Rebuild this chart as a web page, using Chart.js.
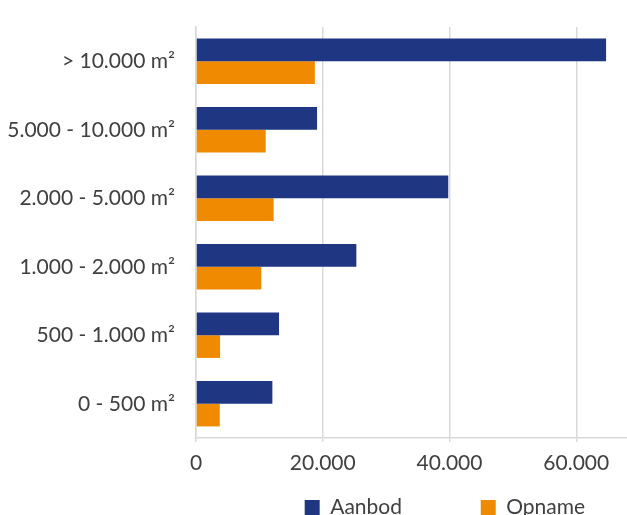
<!DOCTYPE html>
<html>
<head>
<meta charset="utf-8">
<script src="https://cdn.jsdelivr.net/npm/chart.js@4.4.1/dist/chart.umd.min.js"></script>
<style>
  html, body { margin: 0; padding: 0; overflow: hidden; background: #ffffff; }
  #wrap { width: 627px; height: 515px; overflow: hidden; position: relative; }
  #box { width: 627px; height: 528px; position: absolute; left: 0; top: 0; }
</style>
</head>
<body>
<div id="wrap"><div id="box"><canvas id="c"></canvas></div></div>
<script>
const categories = ["> 10.000 m²", "5.000 - 10.000 m²", "2.000 - 5.000 m²", "1.000 - 2.000 m²", "500 - 1.000 m²", "0 - 500 m²"];
const seriesNames = ["Aanbod", "Opname"];
const aanbod = [64700, 19100, 39800, 25300, 13100, 12050];
const opname = [18750, 11000, 12250, 10300, 3800, 3750];
const xTicks = [0, 20000, 40000, 60000];

const BLUE = '#1F3783';
const ORANGE = '#F08A00';
const TEXT = '#404040';
const GRID = '#d9d9d9';
const FONT = 'Lato, "Open Sans", sans-serif';

const fmt = v => String(v).replace(/\B(?=(\d{3})+(?!\d))/g, '.');
const spacers = ['\u2003\u2003\u2003    ', '\u2003   '];

new Chart(document.getElementById('c'), {
  type: 'bar',
  data: {
    labels: categories,
    datasets: [
      { label: seriesNames[0], data: aanbod, backgroundColor: BLUE, borderWidth: 0 },
      { label: seriesNames[1], data: opname, backgroundColor: ORANGE, borderWidth: 0 }
    ]
  },
  options: {
    indexAxis: 'y',
    responsive: true,
    maintainAspectRatio: false,
    animation: false,
    datasets: { bar: { categoryPercentage: 0.662, barPercentage: 1.0 } },
    layout: { padding: { top: 27, right: 0, left: 0, bottom: 0 } },
    scales: {
      x: {
        min: 0,
        max: 68000,
        afterBuildTicks: s => { s.ticks = xTicks.map(v => ({ value: v })); },
        afterFit: s => { s.height = 49; s.paddingLeft = 0; s.paddingRight = 0; },
        ticks: {
          color: TEXT,
          font: { family: FONT, size: 21 },
          padding: 9,
          callback: v => fmt(v)
        },
        grid: { color: GRID, lineWidth: 1.5, tickLength: 4, drawTicks: true },
        border: { display: true, color: GRID, width: 1.5 }
      },
      y: {
        afterFit: s => { s.width = 196; s.paddingTop = 0; s.paddingBottom = 0; },
        ticks: {
          color: TEXT,
          font: { family: FONT, size: 21 },
          padding: 21
        },
        grid: { display: false, drawTicks: false },
        border: { display: true, color: GRID, width: 1.5 }
      }
    },
    plugins: {
      tooltip: { enabled: false },
      legend: {
        position: 'bottom',
        align: 'end',
        labels: {
          color: TEXT,
          font: { family: FONT, size: 21 },
          boxWidth: 15,
          boxHeight: 15,
          padding: 10,
          generateLabels: chart => chart.data.datasets.map((ds, i) => ({
            text: ds.label + spacers[i],
            fillStyle: ds.backgroundColor,
            strokeStyle: ds.backgroundColor,
            lineWidth: 0,
            fontColor: TEXT,
            hidden: false,
            datasetIndex: i
          }))
        }
      }
    }
  }
});
</script>
</body>
</html>
